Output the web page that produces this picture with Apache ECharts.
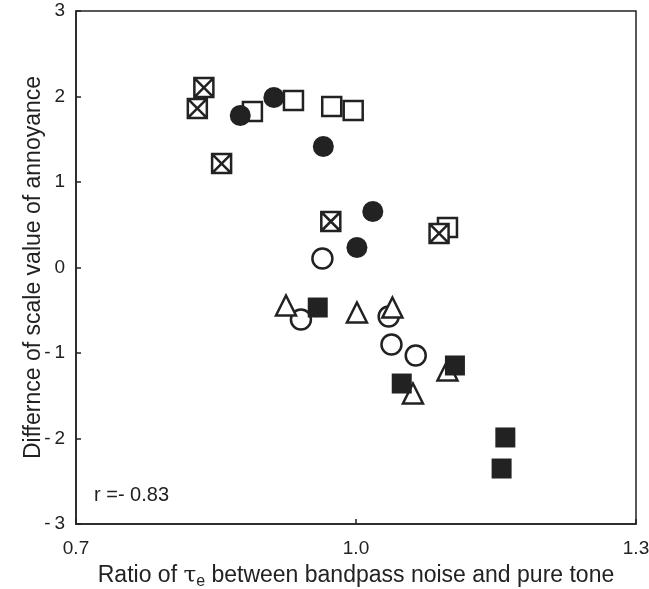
<!DOCTYPE html>
<html>
<head>
<meta charset="utf-8">
<script src="https://cdn.jsdelivr.net/npm/echarts@6/dist/echarts.min.js"></script>
<style>
  html, body { margin: 0; padding: 0; background: #fff; }
  #main { width: 649px; height: 589px; }
</style>
</head>
<body>
<div id="main"></div>
<script>
  // ratio of tau_e (x) and difference of scale value (y), one pair of arrays per marker type
  const openSquareX = [0.889, 0.933, 0.974, 0.997, 1.098];
  const openSquareY = [1.825, 1.953, 1.883, 1.836, 0.468];

  const crossSquareX = [0.837, 0.830, 0.856, 0.973, 1.089];
  const crossSquareY = [2.105, 1.860, 1.216, 0.538, 0.398];

  const filledCircleX = [0.876, 0.912, 0.965, 1.018, 1.001];
  const filledCircleY = [1.778, 1.988, 1.415, 0.655, 0.234];

  const openCircleX = [0.964, 0.941, 1.035, 1.038, 1.064];
  const openCircleY = [0.105, -0.608, -0.573, -0.901, -1.029];

  const triangleX = [0.925, 1.001, 1.039, 1.098, 1.061];
  const triangleY = [-0.444, -0.526, -0.468, -1.205, -1.474];

  const filledSquareX = [0.959, 1.049, 1.106, 1.160, 1.156];
  const filledSquareY = [-0.468, -1.357, -1.146, -1.988, -2.351];

  const xTicks = [0.7, 1.0, 1.3];
  const yTicks = [-3, -2, -1, 0, 1, 2, 3];
  const rText = 'r =- 0.83';

  const ink = '#222';
  const font = 'Liberation Sans, Arial, sans-serif';

  function pairs(xs, ys) {
    return xs.map((x, i) => [x, ys[i]]);
  }

  function series(name, xs, ys, symbol, size, filled) {
    return {
      name: name,
      type: 'scatter',
      data: pairs(xs, ys),
      symbol: symbol,
      symbolSize: size,
      itemStyle: filled
        ? { color: ink, borderWidth: 0, opacity: 1 }
        : { color: '#fff', borderColor: ink, borderWidth: 2.5, opacity: 1 },
      emphasis: { disabled: true }
    };
  }

  const chart = echarts.init(document.getElementById('main'));

  chart.setOption({
    animation: false,
    backgroundColor: '#fff',
    textStyle: { fontFamily: font, color: ink },
    grid: {
      left: 76, top: 11, width: 560, height: 513,
      outerBoundsMode: 'none',
      containLabel: false,
      show: true, borderColor: ink, borderWidth: 1.5, backgroundColor: 'transparent'
    },
    xAxis: {
      type: 'value',
      min: xTicks[0], max: xTicks[xTicks.length - 1], interval: 0.3,
      name: 'Ratio of {t|τ}{s|e} between bandpass noise and pure tone',
      nameLocation: 'middle',
      nameGap: 38,
      nameMoveOverlap: false,
      nameTextStyle: {
        fontSize: 23, color: ink, fontFamily: font,
        rich: {
          t: { fontSize: 23, fontFamily: 'DejaVu Serif, serif', color: ink },
          s: { fontSize: 16, color: ink, fontFamily: font, padding: [12, 0, 0, 0] }
        }
      },
      axisLine: { show: true, onZero: false, lineStyle: { color: ink, width: 1.5 } },
      axisTick: { show: true, inside: true, length: 5, lineStyle: { color: ink, width: 1.5 } },
      axisLabel: {
        fontSize: 19, color: ink, margin: 15,
        formatter: v => v.toFixed(1)
      },
      splitLine: { show: false }
    },
    yAxis: {
      type: 'value',
      min: yTicks[0], max: yTicks[yTicks.length - 1], interval: 1,
      name: 'Differnce of scale value of annoyance',
      nameLocation: 'middle',
      nameGap: 31,
      nameMoveOverlap: false,
      nameTextStyle: { fontSize: 23, color: ink, fontFamily: font },
      axisLine: { show: true, onZero: false, lineStyle: { color: ink, width: 1.5 } },
      axisTick: { show: true, inside: true, length: 5, lineStyle: { color: ink, width: 1.5 } },
      axisLabel: {
        fontSize: 19, color: ink, margin: 11,
        formatter: v => (v < 0 ? '-\u2009' + Math.abs(v) : String(v))
      },
      splitLine: { show: false }
    },
    graphic: [{
      type: 'text',
      left: 94, top: 485,
      style: { text: rText, fill: ink, font: '20px ' + font }
    }],
    series: [
      series('open square', openSquareX, openSquareY, 'rect', 19, false),
      series('crossed square', crossSquareX, crossSquareY,
        'path://M0,0H10V10H0Z M0,0L10,10 M10,0L0,10', 19, false),
      series('filled circle', filledCircleX, filledCircleY, 'circle', 21, true),
      series('open circle', openCircleX, openCircleY, 'circle', 20, false),
      series('triangle', triangleX, triangleY, 'triangle', 20, false),
      series('filled square', filledSquareX, filledSquareY, 'rect', 20, true)
    ]
  });
</script>
</body>
</html>
